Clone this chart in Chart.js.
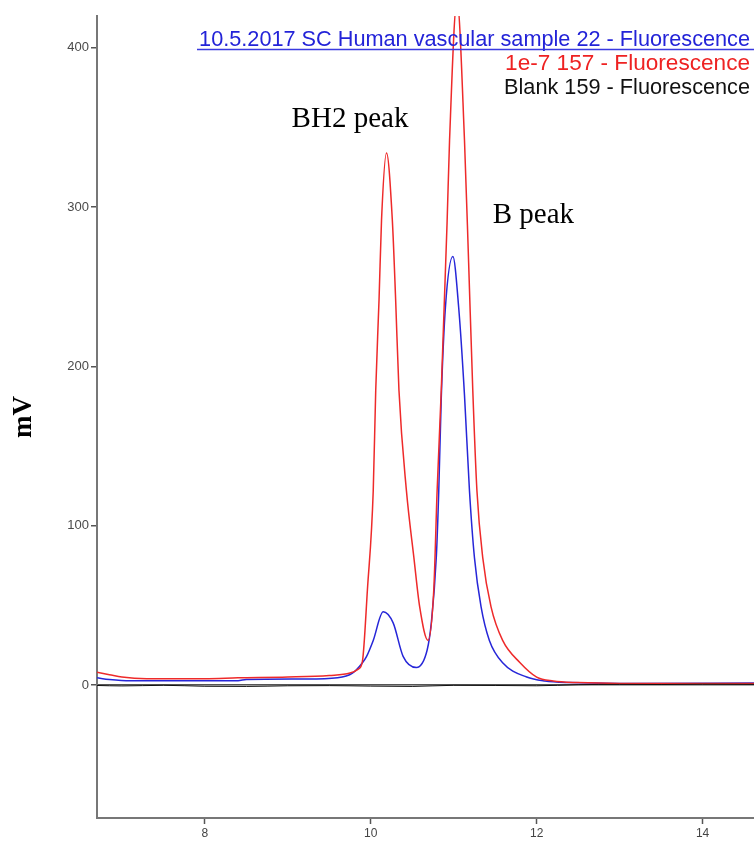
<!DOCTYPE html>
<html>
<head>
<meta charset="utf-8">
<script src="https://cdn.jsdelivr.net/npm/chart.js@4/dist/chart.umd.min.js"></script>
<style>
  html, body { margin: 0; padding: 0; background: #fff; }
  #wrap { width: 754px; height: 842px; position: relative; }
</style>
</head>
<body>
<div id="wrap"><canvas id="chrom"></canvas></div>
<script>
// retention time (min) / signal (mV) for each run
const sampleTime   = [6.70, 6.85, 7.1, 8.0, 8.4, 8.5, 9.2, 9.6, 9.78, 9.90, 9.95, 10.03, 10.15, 10.27, 10.39, 10.55, 10.68, 10.73, 10.79, 10.82, 10.85, 10.90, 10.99, 11.06, 11.13, 11.19, 11.25, 11.33, 11.43, 11.59, 11.88, 12.1, 12.4, 13.0, 14.62];
const sampleSignal = [4.5, 3.5, 2.7, 2.7, 2.7, 3.5, 3.8, 4.6, 7.5, 14, 18, 28, 46, 39, 18, 11, 22, 39, 80, 122, 180, 237, 269, 237, 182, 122, 80, 49, 28, 14, 5, 2.5, 1.5, 1, 1.2];

const stdTime   = [6.70, 6.85, 7.0, 7.3, 8.0, 8.4, 9.0, 9.5, 9.75, 9.85, 9.90, 9.96, 10.03, 10.06, 10.10, 10.13, 10.19, 10.26, 10.30, 10.34, 10.43, 10.52, 10.59, 10.69, 10.76, 10.80, 10.85, 10.92, 10.95, 11.04, 11.13, 11.18, 11.23, 11.28, 11.35, 11.45, 11.59, 11.80, 12.0, 12.2, 12.5, 13.0, 14.62];
const stdSignal = [8, 6.5, 5, 4, 4, 4.5, 5, 6, 7.5, 10, 15, 60, 122, 185, 242, 292, 334, 292, 242, 185, 122, 80, 49, 28, 60, 122, 185, 290, 342, 430, 342, 265, 185, 122, 80, 49, 28, 14, 5, 2.5, 1.5, 1, 1];

const blankTime   = [6.7, 7.0, 7.5, 8.0, 8.5, 9.0, 9.5, 10.0, 10.5, 11.0, 11.5, 12.0, 12.5, 13.0, 13.5, 14.0, 14.62];
const blankSignal = [-0.3, -0.6, -0.2, -0.8, -0.9, -0.5, -0.4, -0.7, -0.9, -0.2, -0.3, -0.5, 0.2, 0.4, 0.3, 0.5, 0.4];

const xTicks = [8, 10, 12, 14];
const yTicks = [0, 100, 200, 300, 400];

const legendLines = [
  { text: "10.5.2017 SC Human vascular sample 22 - Fluorescence", color: "#2323d8", size: 21.7 },
  { text: "1e-7 157 - Fluorescence", color: "#ee2222", size: 22.6 },
  { text: "Blank 159 - Fluorescence", color: "#111111", size: 21.7 }
];

const peakLabels = [
  { text: "BH2 peak", x: 9.75, y: 355 },
  { text: "B peak", x: 11.96, y: 295 }
];

function pts(xs, ys) { return xs.map((x, i) => ({ x: x, y: ys[i] })); }

// legend block + peak names
const overlay = {
  id: "overlay",
  afterDraw(chart) {
    const c = chart.ctx;
    const xs = chart.scales.x, ys = chart.scales.y;
    c.save();
    c.textAlign = "right";
    c.textBaseline = "middle";
    legendLines.forEach((l, i) => {
      c.font = l.size + "px 'Liberation Sans', Arial, sans-serif";
      c.fillStyle = l.color;
      c.fillText(l.text, 750, 40 + i * 24);
    });
    c.strokeStyle = "#3a3ae0";
    c.lineWidth = 1.5;
    c.beginPath();
    c.moveTo(197, 49.5);
    c.lineTo(754, 49.5);
    c.stroke();

    c.font = "29px 'Liberation Serif', 'Times New Roman', serif";
    c.textAlign = "center";
    c.fillStyle = "#000";
    peakLabels.forEach(p => {
      c.fillText(p.text, xs.getPixelForValue(p.x), ys.getPixelForValue(p.y));
    });
    c.restore();
  }
};

new Chart(document.getElementById("chrom"), {
  type: "line",
  data: {
    datasets: [
      { label: "Blank", data: pts(blankTime, blankSignal), borderColor: "#111", borderWidth: 1 },
      { label: "1e-7", data: pts(stdTime, stdSignal), borderColor: "#ee2a2a", borderWidth: 1.5 },
      { label: "Sample 22", data: pts(sampleTime, sampleSignal), borderColor: "#2626d8", borderWidth: 1.5 }
    ]
  },
  options: {
    responsive: true,
    maintainAspectRatio: false,
    animation: false,
    layout: { padding: { top: 16, right: 0, left: 0, bottom: 0 } },
    elements: {
      point: { radius: 0 },
      line: { cubicInterpolationMode: "monotone", fill: false }
    },
    plugins: { legend: { display: false }, tooltip: { enabled: false } },
    scales: {
      x: {
        type: "linear",
        min: 6.70,
        max: 14.62,
        afterBuildTicks: s => { s.ticks = xTicks.map(v => ({ value: v })); },
        afterFit: s => { s.height = 24; },
        border: { color: "#777", width: 2 },
        grid: { drawOnChartArea: false, tickLength: 6, tickColor: "#555", tickWidth: 1.5 },
        ticks: { color: "#444", font: { family: "'Liberation Sans', Arial", size: 12 }, padding: 2, maxRotation: 0 }
      },
      y: {
        type: "linear",
        min: -83.5,
        max: 420,
        afterBuildTicks: s => { s.ticks = yTicks.map(v => ({ value: v })); },
        afterFit: s => { s.width = 97; },
        border: { color: "#777", width: 2 },
        grid: {
          color: c => (c.tick && c.tick.value === 0 ? "#555" : "transparent"),
          lineWidth: 1.5,
          tickLength: 6,
          tickColor: "#555",
          tickWidth: 1.5
        },
        ticks: { color: "#4a4a4a", font: { family: "'Liberation Sans', Arial", size: 13 }, padding: 2 },
        title: {
          display: true,
          text: "mV",
          color: "#000",
          font: { family: "'Liberation Serif', 'Times New Roman', serif", size: 27, weight: "bold" },
          padding: { top: 8, bottom: 0 }
        }
      }
    }
  },
  plugins: [overlay]
});
</script>
</body>
</html>
